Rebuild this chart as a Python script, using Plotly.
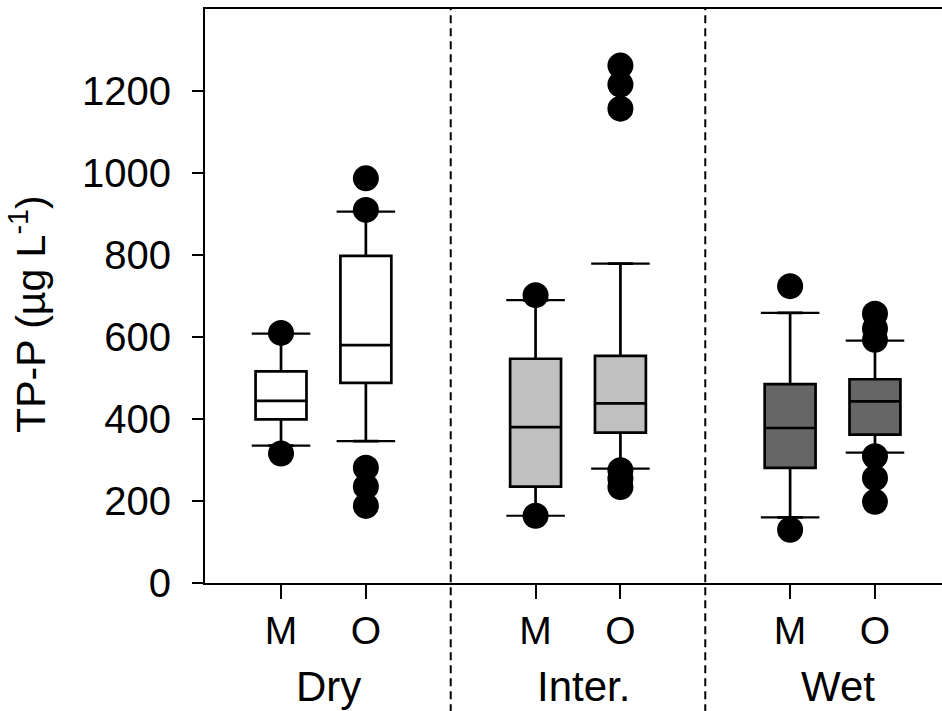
import plotly.graph_objects as go

# ---------------- data ----------------
positions = [1, 2, 4, 5, 7, 8]
tick_labels = ["M", "O", "M", "O", "M", "O"]
groups = ["Dry", "Inter.", "Wet"]
group_centers = [1.5, 4.5, 7.5]
dividers = [3, 6]

q1 = [399, 488, 235, 367, 281, 362]
median = [444, 580, 380, 438, 378, 443]
q3 = [516, 798, 547, 554, 485, 497]
lower_whisker = [335, 346, 164, 279, 160, 318]
upper_whisker = [608, 906, 690, 779, 659, 591]
outliers = [
    [610, 316],
    [987, 910, 281, 235, 188],
    [702, 164],
    [1262, 1216, 1157, 275, 255, 234],
    [724, 130],
    [657, 620, 593, 309, 256, 198],
]
fills = ["#ffffff", "#ffffff", "#c0c0c0", "#c0c0c0", "#666666", "#666666"]

y_ticks = [0, 200, 400, 600, 800, 1000, 1200]

FONT = "Liberation Sans, Arial, sans-serif"

fig = go.Figure()

# boxes
for p, a, m, b, lo, hi, fc in zip(positions, q1, median, q3, lower_whisker, upper_whisker, fills):
    fig.add_trace(go.Box(
        x=[p], q1=[a], median=[m], q3=[b], lowerfence=[lo], upperfence=[hi],
        width=0.6, fillcolor=fc, line=dict(color="black", width=2.7),
        boxpoints=False, showlegend=False, hoverinfo="skip",
    ))

# whisker caps
cap_half = 0.345
cx, cy = [], []
for p, lo, hi in zip(positions, lower_whisker, upper_whisker):
    for v in (lo, hi):
        cx += [p - cap_half, p + cap_half, None]
        cy += [v, v, None]
fig.add_trace(go.Scatter(x=cx, y=cy, mode="lines", line=dict(color="black", width=2.2),
                         showlegend=False, hoverinfo="skip"))

# outliers
ox, oy = [], []
for p, vals in zip(positions, outliers):
    ox += [p] * len(vals)
    oy += vals
fig.add_trace(go.Scatter(x=ox, y=oy, mode="markers",
                         marker=dict(color="black", size=26, line=dict(width=0)),
                         showlegend=False, hoverinfo="skip"))

# dividers
for d in dividers:
    fig.add_shape(type="line", xref="x", yref="paper", x0=d, x1=d, y0=-0.225, y1=1,
                  line=dict(color="black", width=2, dash="8px,5px"))

# group labels
for g, c in zip(groups, group_centers):
    fig.add_annotation(x=c, y=-0.18, xref="x", yref="paper", text=g, showarrow=False,
                       xshift=5, xanchor="center", yanchor="middle",
                       font=dict(family=FONT, size=42, color="black"))

# y title
fig.add_annotation(x=-0.241, y=0.4695, xref="paper", yref="paper",
                   text="TP-P (µg L<sup>-1</sup>)", textangle=-90, showarrow=False,
                   xanchor="center", yanchor="middle",
                   font=dict(family=FONT, size=41, color="black"))

fig.update_layout(
    width=942, height=711,
    margin=dict(l=205, r=0, t=9, b=128),
    paper_bgcolor="white", plot_bgcolor="white",
    font=dict(family=FONT, color="black"),
    showlegend=False,
    xaxis=dict(range=[0.104, 8.79], tickvals=positions, ticktext=tick_labels,
               ticks="outside", ticklen=14, tickwidth=2, tickcolor="black",
               showline=True, linewidth=2, linecolor="black", mirror=True,
               showgrid=False, zeroline=False, ticklabelstandoff=-2,
               tickfont=dict(family=FONT, size=39, color="black")),
    yaxis=dict(range=[0, 1400], tickvals=y_ticks,
               ticks="outside", ticklen=11, tickwidth=2, tickcolor="black",
               showline=True, linewidth=2, linecolor="black",
               showgrid=False, zeroline=False, ticklabelstandoff=13,
               tickfont=dict(family=FONT, size=40, color="black")),
)

fig.write_html("out.html")
